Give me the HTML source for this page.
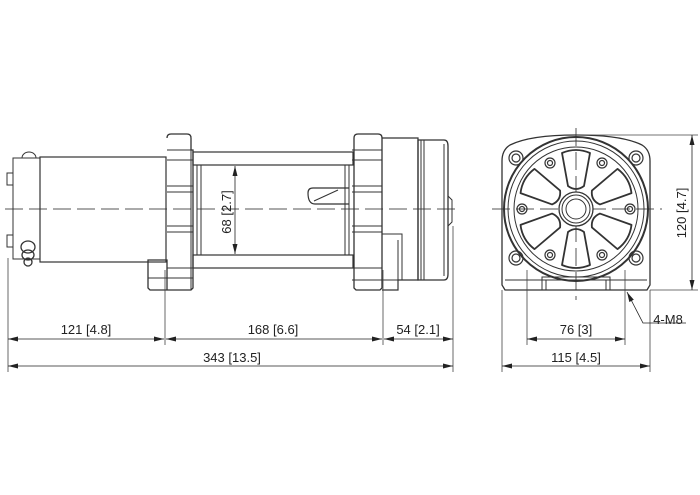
<!DOCTYPE html>
<html><head><meta charset="utf-8"><style>
html,body{margin:0;padding:0;background:#fff}
svg{display:block}
text{font-family:"Liberation Sans",sans-serif;font-size:13px;fill:#222}
</style></head><body>
<svg width="700" height="495" viewBox="0 0 700 495" xmlns="http://www.w3.org/2000/svg">
<defs>
<marker id="a" markerWidth="10" markerHeight="6" refX="10" refY="3" orient="auto-start-reverse" markerUnits="userSpaceOnUse"><path d="M0,0.5 L10,3 L0,5.5z" fill="#222"/></marker>
<path id="w" d="M-8,-23 L-14,-56 Q0,-62 14,-56 L8,-23 Q0,-17 -8,-23 Z"/>
</defs>
<g fill="none" stroke="#333" stroke-width="1">
<line x1="5" y1="209" x2="460" y2="209" stroke-dasharray="18,6" stroke="#555"/>
<rect x="13" y="158" width="27" height="101"/>
<rect x="7" y="173" width="6" height="12"/>
<rect x="7" y="235" width="6" height="12"/>
<path d="M22,158 a7,6 0 0 1 14,0"/>
<g stroke-width="1.3"><ellipse cx="28" cy="247" rx="7" ry="6"/><ellipse cx="28" cy="255" rx="6" ry="5"/><ellipse cx="28" cy="262" rx="4" ry="4"/></g>
<rect x="40" y="157" width="126" height="105" stroke-width="1.2"/>
<path d="M167,138 q0,-4 4,-4 h16 q4,0 4,4 v12 h2 v138 l-2,2 h-24 l0,-30 h-19 v28 l2,2 h19" stroke-width="1.3"/>
<path d="M148,262 h18 v-100 h0"/>
<line x1="167" y1="150" x2="193" y2="150"/><line x1="167" y1="160" x2="193" y2="160"/>
<line x1="167" y1="186" x2="193" y2="186"/><line x1="167" y1="192" x2="193" y2="192"/>
<line x1="167" y1="226" x2="193" y2="226"/><line x1="167" y1="232" x2="193" y2="232"/>
<line x1="167" y1="268" x2="193" y2="268"/><line x1="148" y1="278" x2="193" y2="278"/>
<line x1="191" y1="136" x2="191" y2="290"/>
<rect x="193" y="152" width="160" height="13" stroke-width="1.2"/>
<rect x="193" y="255" width="160" height="13" stroke-width="1.2"/>
<line x1="197" y1="165" x2="197" y2="255"/><line x1="201" y1="165" x2="201" y2="255"/>
<line x1="345" y1="165" x2="345" y2="255"/><line x1="349" y1="165" x2="349" y2="255"/>
<path d="M349,188 h-36 q-5,0 -5,5 q0,11 7,11 h34" stroke-width="1.2"/>
<line x1="314" y1="201" x2="338" y2="190"/>
<path d="M354,138 q0,-4 4,-4 h20 q4,0 4,4 v150 l-2,2 h-24 l-2,-2 z" stroke-width="1.3"/>
<line x1="352" y1="150" x2="382" y2="150"/><line x1="352" y1="160" x2="382" y2="160"/>
<line x1="352" y1="186" x2="382" y2="186"/><line x1="352" y1="192" x2="382" y2="192"/>
<line x1="352" y1="226" x2="382" y2="226"/><line x1="352" y1="232" x2="382" y2="232"/>
<line x1="352" y1="268" x2="382" y2="268"/><line x1="352" y1="280" x2="398" y2="280"/>
<path d="M382,138 h36 v142 h-20 v10 h-16" stroke-width="1.2"/>
<path d="M382,234 h20 v46 M398,240 v50"/>
<path d="M418,140 h26 q4,0 4,6 v128 q0,6 -4,6 h-26 z" stroke-width="1.3"/>
<line x1="421" y1="140" x2="421" y2="280"/><line x1="424" y1="140" x2="424" y2="280"/>
<line x1="444" y1="144" x2="444" y2="276"/>
<path d="M448,196 l4,4 v22 l-4,4"/>
<g stroke="#444" stroke-width="0.8">
<line x1="8" y1="258" x2="8" y2="372"/>
<line x1="165" y1="270" x2="165" y2="345"/>
<line x1="383" y1="270" x2="383" y2="345"/>
<line x1="453" y1="226" x2="453" y2="372"/>
</g>
<g stroke="#222" stroke-width="0.8">
<line x1="8" y1="339" x2="164" y2="339" marker-start="url(#a)" marker-end="url(#a)"/>
<line x1="166" y1="339" x2="382" y2="339" marker-start="url(#a)" marker-end="url(#a)"/>
<line x1="384" y1="339" x2="453" y2="339" marker-start="url(#a)" marker-end="url(#a)"/>
<line x1="8" y1="366" x2="453" y2="366" marker-start="url(#a)" marker-end="url(#a)"/>
<line x1="235" y1="166" x2="235" y2="254" marker-start="url(#a)" marker-end="url(#a)"/>
</g>

<line x1="576" y1="128" x2="576" y2="300" stroke-dasharray="18,6" stroke="#555"/>
<line x1="492" y1="209" x2="662" y2="209" stroke-dasharray="18,6" stroke="#555"/>
<path d="M510,145 q20,-10 66,-10 q46,0 66,10 q8,5 8,16 v124 l-3,5 h-142 l-3,-5 v-124 q0,-11 8,-16z" stroke-width="1.3"/>
<path d="M505,280 h142"/>
<circle cx="576" cy="209" r="72" stroke-width="2"/>
<circle cx="576" cy="209" r="68"/>
<circle cx="576" cy="209" r="62"/>
<g stroke-width="1.8" stroke-linejoin="round" transform="translate(576 209)">
<use href="#w" transform="rotate(0)"/>
<use href="#w" transform="rotate(60)"/>
<use href="#w" transform="rotate(120)"/>
<use href="#w" transform="rotate(180)"/>
<use href="#w" transform="rotate(240)"/>
<use href="#w" transform="rotate(300)"/>
</g>
<circle cx="576" cy="209" r="17" fill="#fff" stroke-width="1.3"/>
<circle cx="576" cy="209" r="14"/>
<circle cx="576" cy="209" r="10"/>
<g stroke-width="1.2">
<circle cx="516" cy="158" r="7"/><circle cx="516" cy="158" r="4"/>
<circle cx="636" cy="158" r="7"/><circle cx="636" cy="158" r="4"/>
<circle cx="516" cy="258" r="7"/><circle cx="516" cy="258" r="4"/>
<circle cx="636" cy="258" r="7"/><circle cx="636" cy="258" r="4"/>
<circle cx="550" cy="163" r="5"/><circle cx="550" cy="163" r="2.5"/>
<circle cx="602" cy="163" r="5"/><circle cx="602" cy="163" r="2.5"/>
<circle cx="522" cy="209" r="5"/><circle cx="522" cy="209" r="2.5"/>
<circle cx="630" cy="209" r="5"/><circle cx="630" cy="209" r="2.5"/>
<circle cx="550" cy="255" r="5"/><circle cx="550" cy="255" r="2.5"/>
<circle cx="602" cy="255" r="5"/><circle cx="602" cy="255" r="2.5"/>
</g>
<path d="M542,290 v-13 h68 v13 M546,290 v-10 h60 v10"/>
<g stroke="#444" stroke-width="0.8">
<line x1="527" y1="270" x2="527" y2="345"/>
<line x1="625" y1="270" x2="625" y2="345"/>
<line x1="502" y1="290" x2="502" y2="372"/>
<line x1="650" y1="290" x2="650" y2="372"/>
<line x1="576" y1="135" x2="698" y2="135"/>
<line x1="650" y1="290" x2="698" y2="290"/>
</g>
<g stroke="#222" stroke-width="0.8">
<line x1="527" y1="339" x2="625" y2="339" marker-start="url(#a)" marker-end="url(#a)"/>
<line x1="502" y1="366" x2="650" y2="366" marker-start="url(#a)" marker-end="url(#a)"/>
<line x1="692" y1="135" x2="692" y2="290" marker-start="url(#a)" marker-end="url(#a)"/>
<path d="M627,292 L643,323 H686" marker-start="url(#a)"/>
</g>
</g>
<text x="86" y="334" text-anchor="middle">121 [4.8]</text>
<text x="273" y="334" text-anchor="middle">168 [6.6]</text>
<text x="418" y="334" text-anchor="middle">54 [2.1]</text>
<text x="232" y="362" text-anchor="middle">343 [13.5]</text>
<text x="576" y="334" text-anchor="middle">76 [3]</text>
<text x="576" y="362" text-anchor="middle">115 [4.5]</text>
<text x="668" y="324" text-anchor="middle">4-M8</text>
<text transform="translate(231 212) rotate(-90)" text-anchor="middle">68 [2.7]</text>
<text transform="translate(686 213) rotate(-90)" text-anchor="middle">120 [4.7]</text>
</svg>
</body></html>
